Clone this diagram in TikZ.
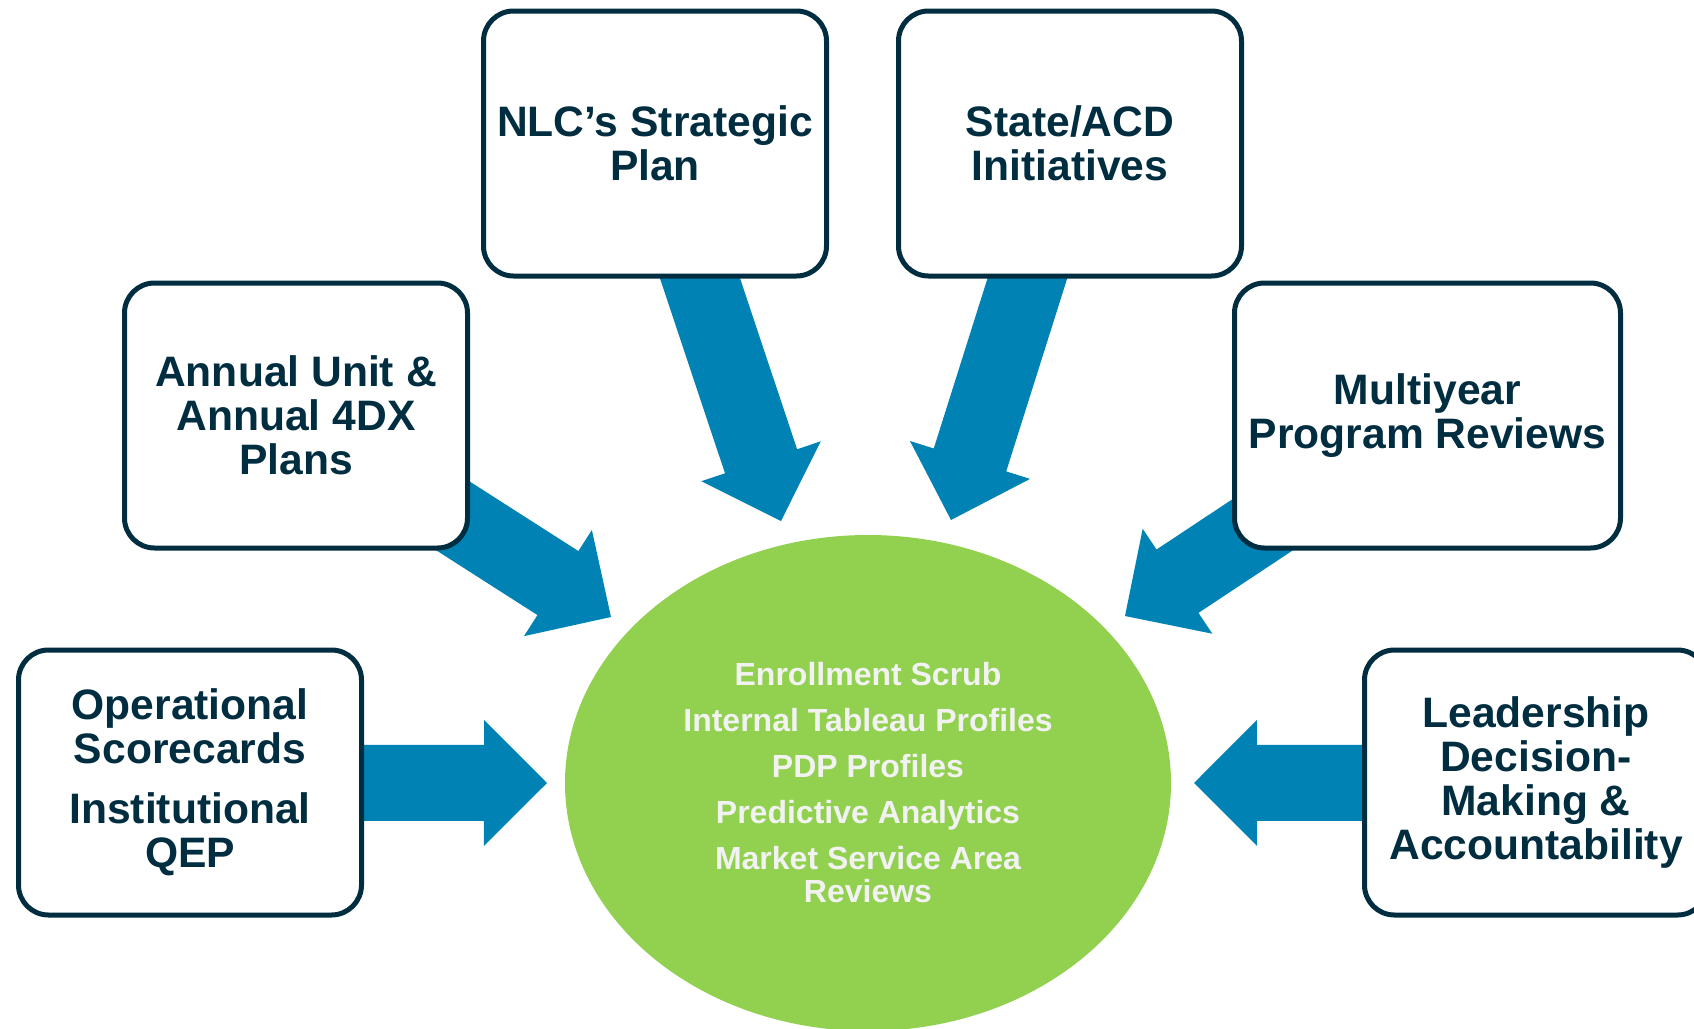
\documentclass[tikz,border=0pt]{standalone}
\usepackage{fontspec}
\setmainfont{Liberation Sans}
\usetikzlibrary{shapes.geometric,calc,backgrounds}
\definecolor{navy}{RGB}{0,45,64}
\definecolor{arrowblue}{RGB}{0,130,180}
\definecolor{hubgreen}{RGB}{146,208,80}
\definecolor{hubtext}{RGB}{242,242,242}
\tikzset{
  box/.style={draw=navy, line width=2.5pt, fill=white, rounded corners=15pt,
    minimum width=171.5pt, minimum height=132.5pt, inner sep=0pt, align=center,
    text=navy, font=\bfseries\fontsize{21.3}{22}\selectfont},
  hub/.style={ellipse, fill=hubgreen, minimum width=303pt, minimum height=248pt,
    inner sep=0pt, align=center, text=hubtext,
    font=\bfseries\fontsize{16}{16.5}\selectfont},
  blockfill/.style={fill=arrowblue}
}
% block arrow from #1 (start, hidden behind box) to #2 (tip)
\newcommand\blockarrow[2]{%
  \coordinate (ba-h) at ($(#2)!31.5pt!(#1)$);
  \fill[blockfill] ($(#1)!19pt!90:(#2)$) -- ($(ba-h)!19pt!90:(#2)$)
    -- ($(ba-h)!31.5pt!90:(#2)$) -- (#2) -- ($(ba-h)!31.5pt!-90:(#2)$)
    -- ($(ba-h)!19pt!-90:(#2)$) -- ($(#1)!19pt!-90:(#2)$) -- cycle;}
\begin{document}
\begin{tikzpicture}[x=0.5pt,y=-0.5pt]
\useasboundingbox (0,0) rectangle (1694,1029);

% nodes
\node[box] (nlc) at (655,143.5) {NLC’s Strategic\\Plan};
\node[box] (state) at (1070,143.5) {State/ACD\\Initiatives};
\node[box] (annual) at (296,415.5) {Annual Unit \&\\Annual 4DX\\Plans};
\node[box, minimum width=193pt] (multi) at (1427.5,415.5) {Multiyear\\Program Reviews};
\node[box] (oper) at (190,782.5) {Operational\\Scorecards\\[8pt]Institutional\\QEP};
\node[box] (lead) at (1536,782.5) {Leadership\\Decision-\\Making \&\\Accountability};
\node[hub] (hubnode) at (868,783) {Enrollment Scrub\\[6.5pt]Internal Tableau Profiles\\[6.5pt]PDP Profiles\\[6.5pt]Predictive Analytics\\[6.5pt]Market Service Area\\Reviews};

% arrow tips
\coordinate (tnlc) at (781,521);
\coordinate (tstate) at (951,520);
\coordinate (tannual) at (611,617);
\coordinate (tmulti) at (1125,616);
\coordinate (toper) at (547,783);
\coordinate (tlead) at (1194,783);

\begin{scope}[on background layer]
  \blockarrow{nlc.center}{tnlc}
  \blockarrow{state.center}{tstate}
  \blockarrow{annual.center}{tannual}
  \blockarrow{multi.center}{tmulti}
  \blockarrow{oper.center}{toper}
  \blockarrow{lead.center}{tlead}
\end{scope}
\end{tikzpicture}
\end{document}
